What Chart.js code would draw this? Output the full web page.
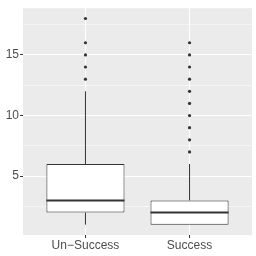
<!DOCTYPE html>
<html>
<head>
<meta charset="utf-8">
<script src="https://cdn.jsdelivr.net/npm/chart.js@4/dist/chart.umd.min.js"></script>
<style>
  html, body { margin: 0; padding: 0; background: #fff; }
</style>
</head>
<body>
<canvas id="chart" width="256" height="256"></canvas>
<script>
// Box plot values
const categories = ['Un\u2212Success', 'Success'];
const q1 = [2, 1];
const median = [3, 2];
const q3 = [6, 3];
const whiskerLow = [1, 1];
const whiskerHigh = [12, 6];
const outliers = [
    [13, 14, 15, 16, 18],
    [7, 8, 9, 10, 11, 12, 13, 14, 15, 16]
];

// y grid: major ticks carry labels, minor ones are blank
const yTicks = [2.5, 5, 7.5, 10, 12.5, 15, 17.5];
const yLabels = ['', '5', '', '10', '', '15', ''];

const INK = '#333333';
const LABEL = '#4D4D4D';

// Panel background, whiskers under the boxes, medians on top
const boxParts = {
    id: 'boxParts',
    beforeDraw(chart) {
        const { ctx, chartArea: a } = chart;
        ctx.save();
        ctx.fillStyle = '#EBEBEB';
        ctx.fillRect(a.left, a.top, a.right - a.left, a.bottom - a.top);
        ctx.restore();
    },
    beforeDatasetsDraw(chart) {
        const { ctx, scales } = chart;
        ctx.save();
        ctx.strokeStyle = INK;
        ctx.lineWidth = 1;
        categories.forEach((c, i) => {
            const x = scales.x.getPixelForValue(i + 1);
            ctx.beginPath();
            ctx.moveTo(x, scales.y.getPixelForValue(q3[i]));
            ctx.lineTo(x, scales.y.getPixelForValue(whiskerHigh[i]));
            ctx.moveTo(x, scales.y.getPixelForValue(q1[i]));
            ctx.lineTo(x, scales.y.getPixelForValue(whiskerLow[i]));
            ctx.stroke();
        });
        ctx.restore();
    },
    afterDatasetsDraw(chart) {
        const { ctx, scales } = chart;
        const meta = chart.getDatasetMeta(0);
        ctx.save();
        ctx.strokeStyle = INK;
        ctx.lineWidth = 2;
        meta.data.forEach((bar, i) => {
            const half = bar.width / 2;
            const y = scales.y.getPixelForValue(median[i]);
            ctx.beginPath();
            ctx.moveTo(bar.x - half, y);
            ctx.lineTo(bar.x + half, y);
            ctx.stroke();
        });
        ctx.restore();
    }
};

const outlierPoints = [];
outliers.forEach((list, i) => {
    list.forEach(v => outlierPoints.push({ x: i + 1, y: v }));
});

new Chart(document.getElementById('chart'), {
    type: 'bar',
    data: {
        datasets: [{
            data: categories.map((c, i) => ({ x: i + 1, y: [q1[i], q3[i]] })),
            backgroundColor: '#FFFFFF',
            borderColor: INK,
            borderWidth: 1,
            borderSkipped: false,
            barPercentage: 0.75,
            categoryPercentage: 1,
            grouped: false
        }, {
            type: 'scatter',
            data: outlierPoints,
            pointRadius: 1.6,
            pointBackgroundColor: INK,
            pointBorderWidth: 0
        }]
    },
    options: {
        responsive: false,
        animation: false,
        layout: { padding: { top: 3, right: 2, left: 0, bottom: 0 } },
        plugins: {
            legend: { display: false },
            tooltip: { enabled: false }
        },
        scales: {
            x: {
                type: 'linear',
                min: 0.4,
                max: 2.6,
                offset: false,
                afterBuildTicks: scale => {
                    scale.ticks = categories.map((c, i) => ({ value: i + 1 }));
                },
                afterFit: scale => { scale.height = 21; },
                ticks: {
                    callback: (v) => categories[v - 1],
                    color: LABEL,
                    font: { family: 'Liberation Sans', size: 12 },
                    padding: 0,
                    maxRotation: 0,
                    autoSkip: false
                },
                grid: {
                    offset: false,
                    color: '#FFFFFF',
                    lineWidth: 1,
                    tickColor: INK,
                    tickLength: 3,
                    tickWidth: 1
                },
                border: { display: false }
            },
            y: {
                min: 0.15,
                max: 18.85,
                afterBuildTicks: scale => {
                    scale.ticks = yTicks.map(v => ({ value: v }));
                },
                afterFit: scale => { scale.width = 23; },
                ticks: {
                    callback: (v, i) => yLabels[i],
                    color: LABEL,
                    font: { family: 'Liberation Sans', size: 12 },
                    padding: 1,
                    autoSkip: false
                },
                grid: {
                    color: '#FFFFFF',
                    lineWidth: ctx => (yLabels[ctx.index] ? 1 : 0.5),
                    tickColor: ctx => (yLabels[ctx.index] ? INK : 'rgba(0,0,0,0)'),
                    tickLength: 3,
                    tickWidth: 1
                },
                border: { display: false }
            }
        }
    },
    plugins: [boxParts]
});
</script>
</body>
</html>
